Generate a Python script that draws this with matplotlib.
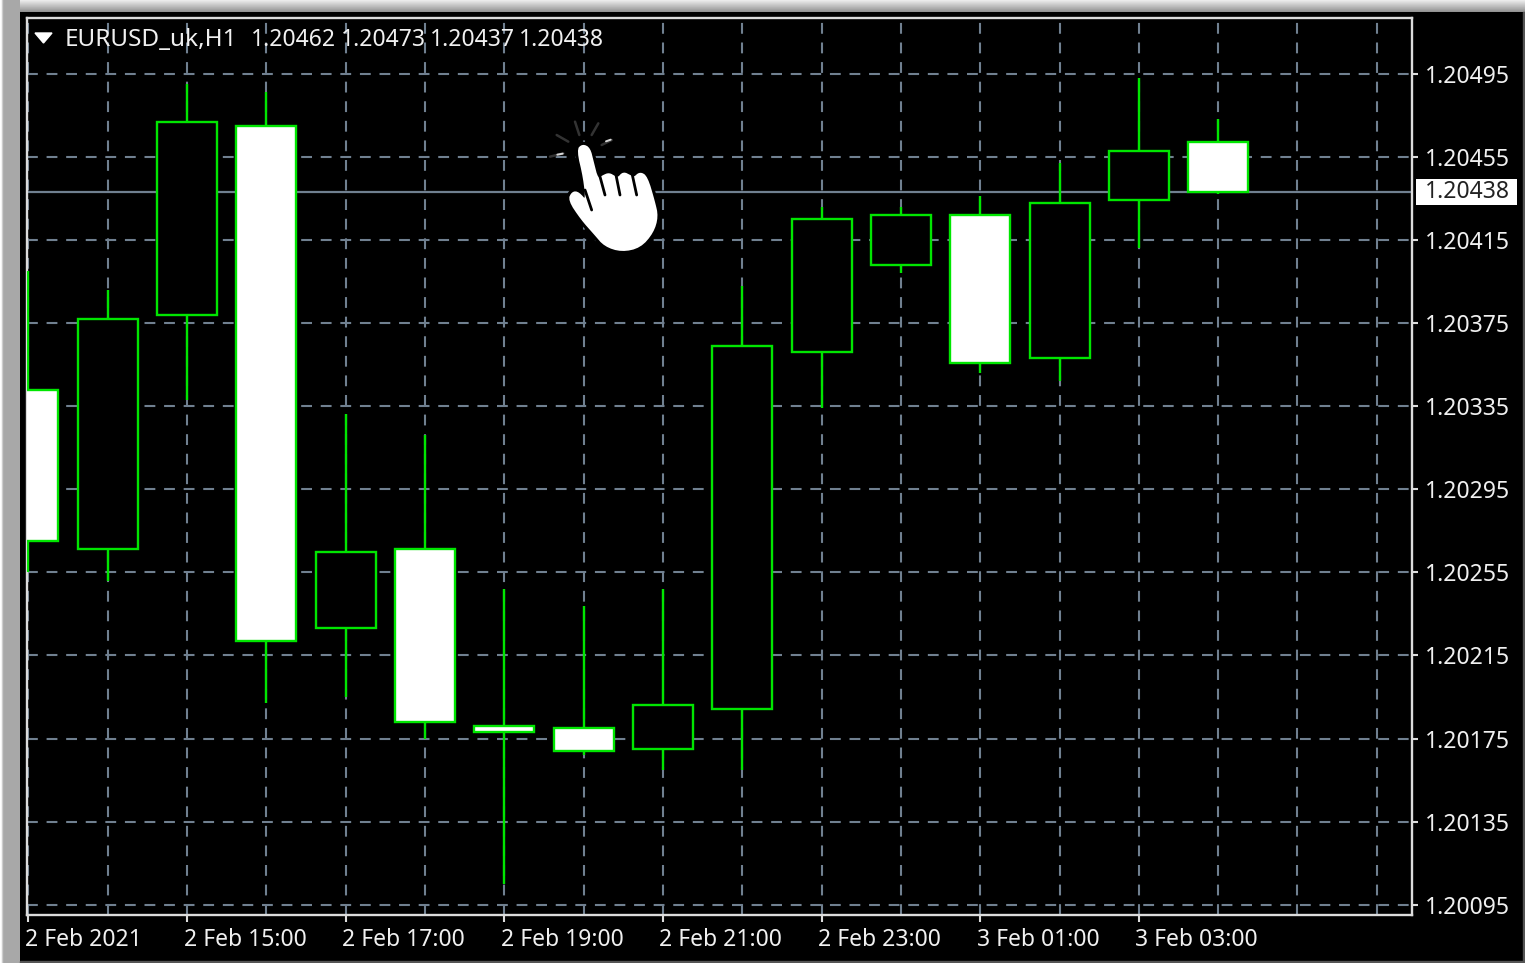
import matplotlib
matplotlib.use("Agg")
import matplotlib.pyplot as plt
import numpy as np
from matplotlib.patches import Polygon, Rectangle
from matplotlib.transforms import ScaledTranslation

plt.rcParams['font.family'] = ['Noto Sans', 'DejaVu Sans']

# candles, oldest first
opens = [1.20343, 1.20266, 1.20379, 1.20470, 1.20228, 1.20266, 1.20181, 1.20180,
         1.20170, 1.20189, 1.20361, 1.20403, 1.20427, 1.20358, 1.20434, 1.20462]
highs = [1.20400, 1.20391, 1.20490, 1.20486, 1.20331, 1.20321, 1.20247, 1.20239,
         1.20247, 1.20393, 1.20431, 1.20431, 1.20436, 1.20452, 1.20493, 1.20473]
lows = [1.20255, 1.20251, 1.20338, 1.20192, 1.20195, 1.20175, 1.20105, 1.20167,
        1.20160, 1.20160, 1.20334, 1.20399, 1.20351, 1.20347, 1.20411, 1.20437]
closes = [1.20270, 1.20377, 1.20472, 1.20222, 1.20265, 1.20183, 1.20178, 1.20169,
          1.20191, 1.20364, 1.20425, 1.20427, 1.20356, 1.20433, 1.20458, 1.20438]

price_ticks = [1.20495, 1.20455, 1.20415, 1.20375, 1.20335, 1.20295,
               1.20255, 1.20215, 1.20175, 1.20135, 1.20095]
time_ticks = [0, 2, 4, 6, 8, 10, 12, 14]
time_labels = ["2 Feb 2021", "2 Feb 15:00", "2 Feb 17:00", "2 Feb 19:00",
               "2 Feb 21:00", "2 Feb 23:00", "3 Feb 01:00", "3 Feb 03:00"]
last_price = 1.20438
header_name = "EURUSD_uk,H1"
header_ohlc = ["1.20462", "1.20473", "1.20437", "1.20438"]

GREEN = "#00e600"
GRID = "#708090"
FRAME = "#dcdcdc"
LABEL = "#f0f0f0"
FS = 16.5
W, H = 1525, 963


def smooth(pts, rounds=2):
    # corner cutting, only used for the outline of the cursor
    pts = np.array(pts, dtype=float)
    for _ in range(rounds):
        nxt = np.roll(pts, -1, axis=0)
        pts = np.column_stack([0.75 * pts + 0.25 * nxt, 0.25 * pts + 0.75 * nxt]).reshape(-1, 2)
    return pts


fig = plt.figure(figsize=(W / 100, H / 100), dpi=100, facecolor="black")
ax = fig.add_axes([27 / W, 1 - 915 / H, (1412 - 27) / W, (915 - 18) / H], facecolor="black")

x = np.arange(len(opens))
o = np.array(opens)
c = np.array(closes)
ax.vlines(x, lows, highs, color=GREEN, linewidth=1.7, zorder=2, capstyle="butt")
body_col = ["white" if close < op else "black" for op, close in zip(opens, closes)]
ax.bar(x, np.abs(c - o), bottom=np.minimum(o, c), width=0.756, color=body_col,
       edgecolor=GREEN, linewidth=1.7, zorder=3)

ax.axhline(last_price, color=GRID, linewidth=1.6, zorder=1)

ax.set_xlim(-0.018, 17.444)
ax.set_ylim(1.2009005, 1.2052185)
ax.set_yticks(price_ticks)
ax.set_yticklabels(["%.5f" % p for p in price_ticks])
ax.yaxis.tick_right()
ax.set_xticks(time_ticks)
ax.set_xticklabels(time_labels, ha="left")
ax.set_xticks([i for i in range(18) if i not in time_ticks], minor=True)
ax.tick_params(axis="x", which="minor", length=0)
ax.tick_params(axis="x", which="major", colors=FRAME, length=5, width=1.5, pad=4,
               labelsize=FS, labelcolor=LABEL)
ax.tick_params(axis="y", colors=FRAME, length=4, width=1.5, pad=5,
               labelsize=FS, labelcolor=LABEL)
shift = ScaledTranslation(-3.5 / 100, 0, fig.dpi_scale_trans)
for lab in ax.get_xticklabels():
    lab.set_transform(lab.get_transform() + shift)
ax.set_axisbelow(True)
ax.grid(True, which="both", color=GRID, linewidth=1.5, linestyle=(0, (5.2, 4.2)))
for s in ax.spines.values():
    s.set_color(FRAME)
    s.set_linewidth(1.7)
    s.set_zorder(1.5)

# current price box on the scale
ax.add_patch(Rectangle((1389 / 1385, last_price - 0.0000625), 101 / 1385, 0.000125,
                       transform=ax.get_yaxis_transform(), facecolor="white",
                       edgecolor="none", clip_on=False, zorder=6))
ax.text(1398 / 1385, last_price, "%.5f" % last_price, transform=ax.get_yaxis_transform(),
        fontsize=FS, color="#222222", va="center", ha="left", clip_on=False, zorder=7)

ax.text(38 / 1385, 1 - 22 / 897, header_name, transform=ax.transAxes, fontsize=17.5,
        color=LABEL, va="center", ha="left", zorder=5)
for px, val in zip([224, 314, 403, 492], header_ohlc):
    ax.text(px / 1385, 1 - 22 / 897, val, transform=ax.transAxes, fontsize=FS,
            color=LABEL, va="center", ha="left", zorder=5)

# overlay in pixels for the window edge and the hand cursor
ov = fig.add_axes([0, 0, 1, 1], facecolor="none")
ov.axis("off")

top_band = np.linspace(0.92, 0.58, 12).reshape(-1, 1)
ov.imshow(top_band, cmap="gray", vmin=0, vmax=1, extent=(0, W, 12, 0), aspect="auto", zorder=1)
left_band = np.array([[1.0, 0.95, 0.8, 0.68] + [0.66] * 16])
ov.imshow(left_band, cmap="gray", vmin=0, vmax=1, extent=(0, 20, H, 0), aspect="auto", zorder=1)
ov.add_patch(Rectangle((20, 961), W - 20, 2, color="#555555", zorder=1))
ov.add_patch(Rectangle((1523, 12), 2, H, color="#555555", zorder=1))
ov.set_xlim(0, W)
ov.set_ylim(H, 0)

# menu triangle
ov.add_patch(Polygon([(35, 33), (52, 33), (43.5, 43)], color="white", zorder=3))

crop = [(113, 105), (128, 90), (148, 100), (158, 140), (172, 195), (190, 183), (207, 176),
        (224, 186), (235, 190), (250, 173), (270, 183), (282, 190), (300, 173), (320, 186),
        (342, 260), (352, 305), (338, 352), (300, 396), (245, 408), (195, 392), (165, 357),
        (125, 312), (87, 255), (98, 232), (115, 233), (140, 262), (133, 190)]
hand = smooth([(540 + a / 3, 115 + b / 3) for a, b in crop])
ov.add_patch(Polygon(hand, closed=True, facecolor="black", edgecolor="black", linewidth=6,
                     joinstyle="round", zorder=4))
ov.add_patch(Polygon(hand, closed=True, facecolor="white", edgecolor="white", linewidth=1.5,
                     joinstyle="round", zorder=5))
for (a, b, a2, b2) in [(135, 225, 155, 285), (180, 185, 195, 240), (228, 180, 240, 240), (277, 180, 290, 240)]:
    ov.plot([540 + a / 3, 540 + a2 / 3], [115 + b / 3, 115 + b2 / 3], color="black",
            linewidth=2.0, solid_capstyle="round", zorder=6)
for (a, b, a2, b2) in [(50, 60, 85, 80), (105, 20, 118, 60), (175, 25, 155, 60),
                       (185, 90, 215, 75), (30, 125, 70, 115)]:
    ov.plot([540 + a / 3, 540 + a2 / 3], [115 + b / 3, 115 + b2 / 3], color="#333333",
            linewidth=1.8, solid_capstyle="round", zorder=6)
for (a, b, a2, b2) in [(198, 79, 212, 74), (52, 119, 68, 116)]:
    ov.plot([540 + a / 3, 540 + a2 / 3], [115 + b / 3, 115 + b2 / 3], color="#d8d8d8",
            linewidth=1.4, solid_capstyle="round", zorder=7)

fig.savefig("out.png", dpi=100, facecolor=fig.get_facecolor())
